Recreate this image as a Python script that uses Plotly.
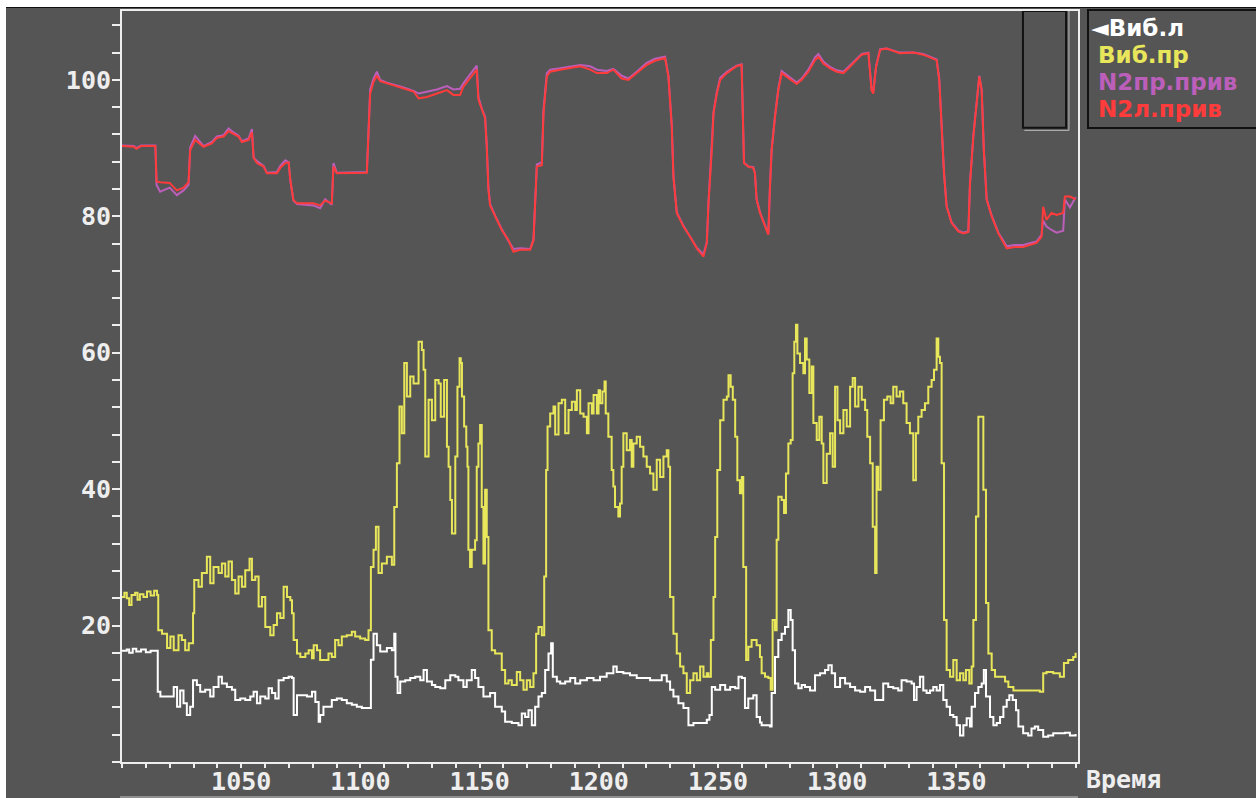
import plotly.graph_objects as go

# ---------------- data ----------------
t_white = [1000, 1002, 1003, 1004.5, 1006, 1008, 1010, 1012, 1014.5, 1015.0, 1016.1, 1018.9, 1021.7, 1023.1,
           1024.4, 1025.8, 1027.2, 1028.6, 1029.8, 1031.4, 1032.8, 1034.9, 1037.0, 1038.4, 1040.5, 1041.9,
           1044.0, 1046.1, 1047.5, 1049.6, 1051.7, 1053.8, 1055.2, 1056.6, 1058.0, 1060.1, 1061.5, 1062.9,
           1064.3, 1065.7, 1067.8, 1069.9, 1071.3, 1072.0, 1073.4, 1075.5, 1077.6, 1079.7, 1081.1, 1082.5,
           1083.1, 1084.5, 1085.9, 1088.0, 1090.1, 1092.2, 1094.3, 1096.4, 1098.5, 1100.6, 1103.4, 1104.4,
           1105.5, 1106.9, 1108.3, 1111.1, 1113.2, 1114.2, 1114.7, 1115.6, 1116.7, 1118.8, 1120.9, 1123.0,
           1125.1, 1126.5, 1127.9, 1130.0, 1131.4, 1133.5, 1135.6, 1137.7, 1139.8, 1141.1, 1143.2, 1144.6,
           1146.7, 1148.1, 1149.5, 1151.6, 1154.4, 1156.5, 1159.3, 1160.7, 1163.5, 1166.3, 1167.7, 1169.1,
           1170.5, 1171.9, 1173.3, 1174.7, 1176.1, 1177.5, 1178.9, 1180.0, 1180.7, 1182.4, 1183.8, 1185.9,
           1188.0, 1190.1, 1192.2, 1195.0, 1197.8, 1200.5, 1203.3, 1206.1, 1207.5, 1210.3, 1213.1, 1215.9,
           1218.7, 1221.5, 1224.3, 1226.4, 1228.5, 1229.9, 1231.3, 1233.4, 1235.5, 1237.6, 1239.7, 1242.5,
           1245.3, 1246.4, 1247.4, 1248.8, 1250.9, 1253.0, 1255.1, 1257.2, 1258.6, 1260.0, 1261.3, 1262.7,
           1264.8, 1266.2, 1267.6, 1268.3, 1271.8, 1272.5, 1273.9, 1275.3, 1276.7, 1278.1, 1279.5, 1280.5,
           1281.3, 1282.3, 1283.7, 1285.1, 1286.5, 1288.6, 1290.7, 1292.8, 1294.9, 1296.3, 1297.7, 1299.1,
           1301.2, 1303.3, 1305.4, 1307.5, 1309.6, 1311.7, 1313.8, 1315.9, 1317.9, 1319.3, 1321.4, 1323.5,
           1325.6, 1327.0, 1329.1, 1331.2, 1332.2, 1333.3, 1334.7, 1336.1, 1337.5, 1338.9, 1340.3, 1341.7,
           1343.1, 1344.5, 1345.9, 1347.3, 1348.7, 1350.1, 1351.5, 1352.9, 1354.3, 1355.7, 1356.4, 1357.8,
           1359.2, 1360.6, 1361.5, 1362.4, 1364.1, 1365.5, 1366.9, 1368.3, 1369.7, 1371.1, 1372.2, 1373.6,
           1375.0, 1376.0, 1378.0, 1380.1, 1381.5, 1382.9, 1384.3, 1386.4, 1388.5, 1390.6, 1393.4, 1395.5,
           1397.6, 1399.7, 1400]
v_white = [16.3, 16.5, 16.0, 16.6, 16.2, 16.5, 16.1, 16.3, 16.3, 10.3, 9.6, 9.6, 11.0, 8.1,
           10.5, 8.6, 6.9, 8.1, 12.0, 11.3, 10.3, 10.6, 9.6, 11.0, 12.5, 11.5,
           11.0, 10.6, 9.1, 9.3, 9.1, 9.6, 10.3, 8.6, 9.6, 9.3, 10.8, 10.1,
           9.3, 12.0, 12.3, 12.5, 12.3, 6.9, 9.8, 9.8, 9.6, 10.3, 8.8, 5.9,
           6.9, 8.1, 8.1, 9.1, 9.3, 9.1, 8.6, 8.4, 8.1, 7.9, 7.9, 15.0,
           18.8, 17.1, 16.2, 16.7, 16.4, 18.8, 12.5, 10.1, 11.8, 12.0, 12.3, 12.5,
           12.0, 13.5, 11.8, 11.3, 11.0, 10.8, 12.0, 12.7, 12.5, 12.0, 11.0, 12.0,
           13.5, 12.3, 11.0, 9.6, 10.1, 8.1, 7.4, 5.9, 5.7, 5.4, 7.1, 6.6,
           7.6, 5.4, 8.1, 9.6, 10.1, 13.5, 15.9, 17.4, 12.5, 11.8, 11.5, 11.8,
           12.3, 11.5, 12.0, 12.3, 12.0, 12.5, 13.0, 14.0, 13.2, 13.0, 12.7, 12.3,
           12.3, 12.0, 12.0, 12.7, 11.8, 10.6, 9.6, 8.6, 7.9, 5.4, 5.7, 5.7,
           6.2, 6.9, 11.0, 10.6, 11.3, 10.6, 11.0, 10.8, 12.5, 12.3, 7.9, 9.3,
           9.8, 6.6, 5.8, 5.4, 5.2, 10.1, 15.4, 17.9, 18.8, 19.8, 22.3, 20.8,
           16.4, 11.5, 10.8, 11.3, 11.0, 10.5, 12.7, 13.0, 13.5, 14.2, 13.0, 11.0,
           12.3, 11.5, 11.0, 10.5, 10.3, 11.0, 10.5, 9.1, 9.1, 11.5, 11.0, 10.8,
           10.5, 12.0, 11.8, 11.5, 9.1, 11.0, 12.5, 10.5, 10.1, 10.5, 11.0, 10.5,
           11.3, 9.1, 8.1, 6.9, 6.6, 5.4, 3.9, 5.4, 6.4, 5.2, 8.1, 10.1,
           11.0, 11.5, 13.5, 9.6, 6.6, 5.4, 5.7, 6.6, 8.1, 9.1, 9.8, 9.1,
           7.6, 5.2, 4.2, 3.9, 4.9, 5.2, 4.7, 3.7, 3.9, 4.2, 4.2, 4.3,
           3.9, 3.9, 4.1]

t_yellow = [1000, 1001, 1002, 1003, 1004, 1005.5, 1006.5, 1007.5, 1009, 1010.5, 1012, 1013.5, 1014.7, 1015.2,
            1016.8, 1018.9, 1020.3, 1021.7, 1023.7, 1025.1, 1026.5, 1028.0, 1029.3, 1029.8, 1030.3, 1032.1,
            1033.5, 1035.6, 1037.0, 1038.4, 1040.5, 1041.9, 1043.3, 1044.7, 1046.1, 1047.5, 1048.9, 1050.3,
            1051.7, 1053.5, 1054.5, 1055.9, 1057.3, 1058.7, 1060.1, 1062.2, 1063.6, 1065.0, 1066.4, 1067.8,
            1069.2, 1070.6, 1071.3, 1072.0, 1073.4, 1074.8, 1076.9, 1078.3, 1079.7, 1080.4, 1081.8, 1083.1,
            1085.2, 1086.6, 1088.0, 1089.4, 1090.8, 1092.2, 1094.3, 1096.4, 1097.8, 1099.9, 1102.0, 1103.4,
            1104.4, 1105.5, 1106.5, 1107.6, 1109.0, 1111.1, 1113.2, 1114.2, 1115.3, 1116.4, 1117.4, 1118.4,
            1119.5, 1120.9, 1122.3, 1124.4, 1125.8, 1126.5, 1127.2, 1128.6, 1130.0, 1131.4, 1132.8, 1133.7,
            1135.1, 1136.3, 1137.0, 1137.7, 1138.4, 1139.3, 1139.8, 1140.7, 1141.6, 1142.1, 1142.6, 1143.5,
            1144.4, 1144.9, 1145.3, 1146.0, 1146.7, 1148.1, 1148.8, 1149.5, 1150.2, 1150.9, 1151.6, 1152.3,
            1153.0, 1153.7, 1155.1, 1156.5, 1159.3, 1160.7, 1162.1, 1163.5, 1165.6, 1167.0, 1168.4, 1169.8,
            1171.2, 1172.6, 1173.7, 1174.7, 1176.1, 1177.1, 1177.9, 1178.5, 1179.6, 1181.0, 1181.7, 1183.1,
            1184.5, 1185.9, 1187.3, 1188.7, 1190.1, 1190.8, 1192.2, 1193.6, 1195.0, 1195.7, 1197.1, 1197.8,
            1199.2, 1199.9, 1200.5, 1201.5, 1202.4, 1202.9, 1204.0, 1205.4, 1206.1, 1206.8, 1208.2, 1208.9,
            1209.6, 1210.3, 1211.7, 1213.1, 1213.8, 1214.5, 1215.9, 1217.3, 1218.7, 1220.1, 1221.5, 1222.9,
            1224.3, 1225.7, 1227.1, 1228.5, 1229.2, 1229.9, 1231.3, 1232.7, 1234.1, 1235.5, 1236.9, 1238.3,
            1239.7, 1241.1, 1242.5, 1243.9, 1245.3, 1246.0, 1247.0, 1248.1, 1248.8, 1249.7, 1250.9, 1252.3,
            1253.7, 1254.4, 1255.3, 1256.2, 1257.2, 1258.1, 1259.2, 1260.0, 1260.6, 1261.8, 1262.7, 1264.1,
            1266.2, 1267.6, 1268.3, 1269.7, 1271.1, 1272.1, 1272.9, 1273.9, 1274.6, 1275.3, 1276.7, 1277.7,
            1278.5, 1279.5, 1280.5, 1281.3, 1282.0, 1282.7, 1283.3, 1284.4, 1285.8, 1286.5, 1287.2, 1288.3,
            1289.3, 1290.0, 1291.4, 1292.5, 1293.5, 1294.2, 1295.6, 1297.0, 1298.1, 1299.1, 1300.1, 1301.2,
            1302.6, 1304.0, 1305.4, 1306.5, 1307.5, 1308.9, 1310.3, 1311.7, 1312.6, 1313.8, 1314.9, 1315.9,
            1316.5, 1317.2, 1318.2, 1319.6, 1321.0, 1322.4, 1323.5, 1324.9, 1326.3, 1327.7, 1329.1, 1330.5,
            1331.9, 1333.0, 1334.0, 1335.4, 1336.8, 1338.2, 1339.6, 1340.6, 1341.7, 1342.4, 1343.1, 1343.8,
            1344.8, 1345.9, 1347.3, 1348.7, 1350.1, 1351.5, 1352.9, 1354.0, 1355.4, 1356.4, 1357.1, 1358.2,
            1359.2, 1360.6, 1361.3, 1362.4, 1363.4, 1364.8, 1366.2, 1368.3, 1370.4, 1371.8, 1373.9, 1376.6,
            1379.4, 1382.2, 1385.0, 1386.4, 1387.8, 1390.6, 1393.4, 1395.1, 1396.9, 1399.0, 1400]
v_yellow = [24.2, 24.8, 24.0, 23.0, 24.5, 24.8, 23.8, 24.6, 24.2, 25.0, 24.4, 25.1, 24.5, 19.3,
            18.8, 16.7, 18.4, 16.4, 18.6, 17.9, 16.4, 17.4, 17.4, 21.8, 26.7, 25.7,
            27.7, 30.1, 26.2, 28.6, 27.7, 29.1, 27.2, 29.4, 26.7, 24.7, 27.2, 25.7,
            28.1, 29.8, 26.7, 27.2, 22.8, 24.2, 19.8, 18.6, 20.1, 21.8, 21.1, 25.7,
            24.2, 23.7, 21.8, 17.9, 15.9, 15.4, 15.9, 16.4, 15.2, 17.1, 16.4, 14.95,
            14.95, 15.9, 15.4, 17.9, 17.1, 18.4, 18.6, 19.1, 18.4, 18.1, 17.9, 19.3,
            28.6, 31.1, 34.5, 27.7, 29.1, 30.1, 28.9, 37.4, 43.8, 52.1, 48.2, 58.5,
            53.6, 56.5, 55.5, 61.6, 60.4, 57.5, 44.8, 53.1, 50.1, 56.0, 55.5, 50.6,
            56.0, 46.2, 43.3, 38.4, 33.5, 33.5, 44.8, 55.0, 59.2, 58.5, 53.6, 49.2,
            46.2, 43.3, 31.1, 28.6, 31.1, 32.5, 43.3, 46.7, 49.4, 37.4, 29.1, 39.9,
            33.0, 19.3, 16.4, 15.9, 13.5, 11.5, 12.0, 11.3, 13.2, 12.0, 10.6, 12.0,
            11.0, 13.0, 18.8, 19.8, 18.6, 27.2, 42.8, 49.2, 51.1, 52.1, 48.0, 52.6,
            53.1, 48.2, 51.6, 52.8, 51.6, 54.5, 51.1, 50.6, 48.2, 52.6, 51.1, 53.8,
            51.1, 54.5, 52.6, 54.3, 55.8, 51.1, 47.7, 42.8, 40.4, 37.4, 36.0, 37.9,
            43.3, 48.2, 45.7, 47.2, 43.3, 46.7, 47.7, 46.2, 44.8, 43.3, 42.3, 39.9,
            44.3, 41.8, 44.8, 45.7, 43.3, 24.2, 18.8, 15.9, 14.0, 13.0, 10.1, 12.0,
            13.0, 12.0, 14.0, 12.5, 13.0, 12.5, 17.9, 24.2, 33.0, 42.8, 50.1, 53.1,
            53.6, 56.7, 55.0, 53.1, 47.7, 41.3, 39.4, 41.8, 28.6, 14.95, 16.9, 17.9,
            17.1, 15.4, 13.0, 12.5, 12.3, 10.6, 20.8, 19.3, 32.6, 38.9, 38.4, 36.5,
            42.3, 46.7, 47.2, 57.0, 61.6, 64.1, 59.9, 58.5, 57.0, 62.1, 59.0, 54.1,
            58.0, 49.7, 47.2, 50.6, 46.7, 40.9, 45.2, 48.2, 43.3, 55.0, 50.1, 48.2,
            51.6, 49.2, 55.0, 56.3, 52.1, 55.0, 53.1, 51.6, 47.7, 43.8, 34.5, 27.7,
            43.3, 39.9, 50.1, 53.1, 53.6, 52.6, 55.0, 53.6, 54.3, 52.6, 49.7, 48.2,
            41.3, 48.2, 50.6, 51.6, 52.6, 55.0, 56.0, 57.5, 62.1, 59.4, 58.5, 43.8,
            20.8, 13.5, 12.5, 14.95, 12.0, 13.0, 12.0, 13.5, 11.5, 14.0, 20.8, 36.0,
            50.6, 50.6, 39.9, 23.3, 15.9, 13.5, 12.5, 12.5, 11.8, 11.0, 10.5, 10.5,
            10.5, 10.5, 10.3, 13.0, 13.2, 13.0, 12.5, 14.5, 14.95, 15.4, 16.0]

t_n2 = [1000, 1005, 1006, 1008, 1014, 1014.5, 1016, 1020, 1023, 1025.8, 1027.9, 1028.6, 1030.7, 1034.2,
        1037.7, 1039.8, 1042.6, 1044.7, 1046.8, 1048.9, 1050.3, 1053.1, 1054.5, 1055.2, 1056.6, 1059.4,
        1060.8, 1065.0, 1066.4, 1068.5, 1069.9, 1070.6, 1071.9, 1073.4, 1080.3, 1083.1, 1085.2, 1088.0,
        1088.7, 1090.1, 1102.7, 1103.4, 1104.1, 1105.5, 1106.9, 1108.3, 1111.1, 1118.1, 1122.3, 1124.4,
        1127.9, 1132.1, 1136.3, 1139.0, 1141.8, 1143.2, 1146.0, 1148.8, 1149.5, 1150.9, 1152.3, 1153.0,
        1153.7, 1154.4, 1156.5, 1159.3, 1162.1, 1164.2, 1167.0, 1171.2, 1172.6, 1173.3, 1174.0, 1176.1,
        1176.8, 1178.2, 1179.6, 1183.8, 1192.2, 1196.4, 1199.2, 1203.3, 1206.1, 1209.6, 1212.4, 1215.9,
        1220.1, 1223.6, 1227.8, 1229.2, 1229.9, 1230.6, 1231.3, 1232.7, 1235.5, 1238.3, 1241.1, 1243.9,
        1245.3, 1246.0, 1247.4, 1248.1, 1249.5, 1250.9, 1253.7, 1257.8, 1259.9, 1260.4, 1260.9, 1262.7,
        1264.8, 1265.5, 1266.2, 1267.6, 1269.7, 1271.1, 1271.8, 1272.5, 1273.9, 1275.3, 1276.7, 1278.8,
        1280.9, 1283.0, 1285.1, 1287.9, 1290.7, 1292.1, 1294.2, 1297.0, 1299.8, 1302.6, 1304.7, 1307.5,
        1310.3, 1313.1, 1314.4, 1315.1, 1316.3, 1318.0, 1320.7, 1326.3, 1331.9, 1336.1, 1341.7, 1342.8,
        1343.8, 1344.8, 1345.9, 1348.0, 1350.8, 1352.9, 1355.0, 1355.7, 1357.1, 1358.5, 1359.6, 1360.6,
        1361.5, 1362.7, 1364.8, 1367.6, 1371.1, 1374.5, 1378.0, 1383.6, 1385.7, 1386.4, 1387.8, 1389.9,
        1392.0, 1394.8, 1395.5, 1397.6, 1400]
v_n2_left = [90.3, 90.2, 89.9, 90.3, 90.3, 85.1, 85.0, 84.9, 83.8, 84.2, 85.0, 89.7, 91.2, 90.2,
             90.7, 91.5, 91.7, 92.5, 92.1, 91.7, 90.9, 91.2, 92.3, 88.6, 87.8, 87.3,
             86.3, 86.3, 87.1, 87.8, 87.9, 85.3, 82.4, 81.9, 81.9, 81.6, 82.3, 81.9,
             87.3, 86.3, 86.4, 91.7, 98.0, 99.7, 100.6, 99.8, 99.5, 98.8, 98.3, 97.3,
             97.5, 98.0, 98.5, 97.8, 97.8, 99.0, 100.2, 101.5, 97.1, 95.6, 94.4, 90.2,
             83.9, 81.6, 80.0, 78.0, 76.5, 74.8, 75.1, 75.1, 76.5, 82.4, 87.3, 87.5,
             95.1, 100.5, 101.2, 101.5, 102.0, 101.5, 101.0, 101.0, 101.5, 100.2, 100.0, 101.0,
             102.2, 102.8, 103.2, 100.5, 97.1, 93.2, 85.8, 80.5, 78.5, 77.0, 75.3, 74.1,
             76.1, 81.9, 89.7, 95.1, 98.0, 100.0, 101.0, 102.0, 102.2, 94.1, 87.8, 87.3,
             87.1, 86.3, 82.4, 80.5, 78.7, 77.3, 84.4, 89.7, 94.6, 98.5, 101.0, 100.5,
             100.0, 99.4, 100.0, 101.2, 102.9, 103.4, 102.4, 101.7, 101.2, 101.0, 101.7, 102.7,
             103.7, 103.9, 98.5, 98.0, 101.9, 104.4, 104.6, 103.9, 104.0, 103.7, 102.9, 100.0,
             93.6, 86.3, 81.4, 79.0, 77.8, 77.5, 77.7, 84.8, 91.7, 97.1, 100.5, 98.5,
             89.7, 82.4, 80.0, 77.5, 75.3, 75.5, 75.5, 76.1, 77.0, 81.4, 79.5, 80.5,
             80.2, 80.5, 82.9, 82.9, 82.5]
v_n2_right = [90.4, 90.3, 90.0, 90.4, 90.4, 84.6, 83.6, 84.2, 83.1, 83.8, 84.6, 90.1, 91.8, 90.3,
              90.9, 91.7, 91.9, 92.9, 92.3, 91.8, 91.0, 91.4, 92.8, 88.6, 88.1, 87.4,
              86.4, 86.5, 87.4, 88.2, 87.9, 85.3, 82.3, 81.8, 81.6, 81.2, 82.5, 81.7,
              87.8, 86.4, 86.5, 91.5, 98.6, 100.2, 101.2, 100.0, 99.6, 98.9, 98.4, 98.0,
              98.3, 98.6, 99.1, 98.6, 98.7, 99.5, 100.8, 102.1, 97.5, 95.8, 94.6, 90.4,
              84.2, 81.8, 80.1, 78.1, 76.4, 75.2, 75.3, 75.2, 76.6, 82.5, 87.6, 87.9,
              95.6, 101.0, 101.5, 101.7, 102.2, 102.0, 101.5, 101.3, 101.6, 100.6, 100.2, 101.2,
              102.5, 103.1, 103.4, 100.6, 97.2, 93.3, 85.9, 80.6, 78.6, 77.1, 75.4, 74.4,
              76.2, 82.0, 89.8, 95.2, 98.2, 100.3, 101.2, 102.1, 102.3, 94.2, 87.9, 87.3,
              87.2, 86.3, 82.5, 80.6, 78.8, 77.4, 84.5, 89.8, 94.7, 98.7, 101.3, 100.7,
              100.2, 99.6, 100.2, 101.5, 103.3, 103.8, 102.7, 101.9, 101.4, 101.2, 101.9, 102.9,
              103.8, 104.0, 98.7, 98.2, 102.0, 104.5, 104.6, 104.0, 104.0, 103.8, 103.0, 100.1,
              93.7, 86.4, 81.5, 79.1, 77.9, 77.6, 77.8, 84.9, 91.8, 97.2, 100.6, 98.6,
              89.8, 82.5, 80.1, 77.6, 75.6, 75.8, 75.8, 76.3, 77.3, 79.4, 78.5, 78.0,
              77.6, 77.9, 82.5, 81.3, 82.8]

y_tick_vals = [20, 40, 60, 80, 100]
x_tick_vals = [1050, 1100, 1150, 1200, 1250, 1300, 1350]
legend_names = ["◄Виб.л", "Виб.пр", "N2пр.прив", "N2л.прив"]
x_title = "Время"

# ---------------- styling ----------------
BG = "#555555"
FRAME = "#eeeeee"
C_WHITE = "#ffffff"
C_YELLOW = "#e8e65a"
C_PURPLE = "#bb5fbb"
C_RED = "#ff3b3b"
FONT = "DejaVu Sans Mono"
LEG_FONT = "DejaVu Sans"

W, H = 1256, 798
L, R, T, B = 122, 178, 11, 36
PW, PH = W - L - R, H - T - B


def px2paper_x(px):
    return (px - L) / PW


def py2paper_y(py):
    return (H - B - py) / PH


fig = go.Figure()
fig.add_trace(go.Scatter(x=t_n2, y=v_n2_right, mode="lines", line=dict(color=C_PURPLE, width=2),
                         name=legend_names[2]))
fig.add_trace(go.Scatter(x=t_n2, y=v_n2_left, mode="lines", line=dict(color=C_RED, width=2),
                         name=legend_names[3]))
fig.add_trace(go.Scatter(x=t_yellow, y=v_yellow, mode="lines", line=dict(color=C_YELLOW, width=2, shape="hv"),
                         name=legend_names[1]))
fig.add_trace(go.Scatter(x=t_white, y=v_white, mode="lines", line=dict(color=C_WHITE, width=2, shape="hv"),
                         name=legend_names[0]))

fig.update_layout(
    width=W, height=H,
    margin=dict(l=L, r=R, t=T, b=B, pad=0, autoexpand=False),
    paper_bgcolor=BG, plot_bgcolor=BG,
    showlegend=False,
    font=dict(family=FONT, color=FRAME, size=24),
)
fig.update_xaxes(
    range=[1000, 1401], tickvals=x_tick_vals, ticktext=[str(v) for v in x_tick_vals],
    ticks="outside", ticklen=4, tickwidth=2, tickcolor=FRAME, automargin=False,
    minor=dict(tick0=1000, dtick=10, ticks="outside", ticklen=4, tickwidth=2, tickcolor=FRAME, showgrid=False),
    showgrid=False, zeroline=False, showline=True, linecolor=FRAME, linewidth=2, mirror=True,
    tickfont=dict(family=FONT, size=25, color=FRAME, weight="bold"),
    ticklabelstandoff=-8,
)
fig.update_yaxes(
    range=[0, 110.1], tickvals=y_tick_vals, ticktext=[str(v) for v in y_tick_vals],
    ticks="outside", ticklen=8, tickwidth=2, tickcolor=FRAME, automargin=False,
    minor=dict(tick0=0, dtick=4, ticks="outside", ticklen=8, tickwidth=2, tickcolor=FRAME, showgrid=False),
    showgrid=False, zeroline=False, showline=True, linecolor=FRAME, linewidth=2, mirror=True,
    tickfont=dict(family=FONT, size=25, color=FRAME, weight="bold"),
    ticklabelstandoff=-4,
)

shapes = []
# dark box inside the plot (top right)
shapes.append(dict(type="rect", xref="x", yref="y", x0=1377.9, x1=1396.0, y0=93.0, y1=110.1,
                   line=dict(color="#111111", width=2), fillcolor="rgba(0,0,0,0)"))
shapes.append(dict(type="line", xref="x", yref="y", x0=1397.2, x1=1397.2, y0=92.6, y1=110.1,
                   line=dict(color="#bbbbbb", width=1)))
shapes.append(dict(type="line", xref="x", yref="y", x0=1378.5, x1=1397.2, y0=92.6, y1=92.6,
                   line=dict(color="#bbbbbb", width=1)))
# legend box
shapes.append(dict(type="rect", xref="paper", yref="paper",
                   x0=px2paper_x(1088), x1=px2paper_x(1262), y0=py2paper_y(128), y1=py2paper_y(10),
                   line=dict(color="#111111", width=2), fillcolor=BG))
# outer window edges
shapes.append(dict(type="rect", xref="paper", yref="paper",
                   x0=px2paper_x(-5), x1=px2paper_x(1262), y0=py2paper_y(7), y1=py2paper_y(-5),
                   line=dict(width=0), fillcolor="#ffffff"))
shapes.append(dict(type="line", xref="paper", yref="paper",
                   x0=px2paper_x(6), x1=px2paper_x(1262), y0=py2paper_y(7.5), y1=py2paper_y(7.5),
                   line=dict(color="#111111", width=1)))
shapes.append(dict(type="rect", xref="paper", yref="paper",
                   x0=px2paper_x(-5), x1=px2paper_x(6), y0=py2paper_y(805), y1=py2paper_y(0),
                   line=dict(width=0), fillcolor="#ffffff"))
shapes.append(dict(type="line", xref="paper", yref="paper",
                   x0=px2paper_x(120), x1=px2paper_x(1078), y0=py2paper_y(797), y1=py2paper_y(797),
                   line=dict(color="#cccccc", width=1)))
fig.update_layout(shapes=shapes)

legend_colors = [C_WHITE, C_YELLOW, C_PURPLE, C_RED]
legend_py = [28, 55, 82, 109]
annotations = []
for i, (name, col, py) in enumerate(zip(legend_names, legend_colors, legend_py)):
    annotations.append(dict(xref="paper", yref="paper", x=px2paper_x(1089 if i == 0 else 1096),
                            y=py2paper_y(py), xanchor="left", yanchor="middle", showarrow=False,
                            text=name, font=dict(family=LEG_FONT, size=23, color=col, weight="bold")))
annotations.append(dict(xref="paper", yref="paper", x=px2paper_x(1084), y=py2paper_y(779),
                        xanchor="left", yanchor="middle", showarrow=False, text=x_title,
                        font=dict(family=FONT, size=25, color=FRAME, weight="bold")))
fig.update_layout(annotations=annotations)

fig.write_html("out.html", config={"displayModeBar": False},
               post_script="document.body.style.margin='0';document.body.style.overflow='hidden';")
